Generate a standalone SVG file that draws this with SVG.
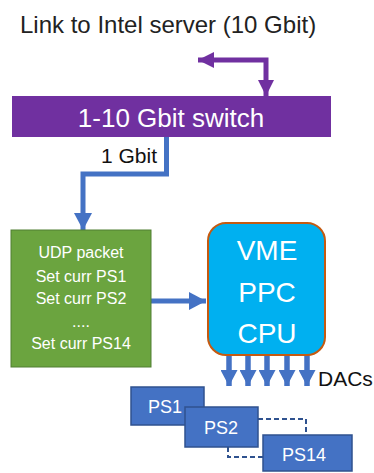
<svg xmlns="http://www.w3.org/2000/svg" width="374" height="473" viewBox="0 0 374 473">
<defs>
<style>
text{font-family:"Liberation Sans","DejaVu Sans",sans-serif;}
.w{fill:#fff;text-anchor:middle;}
.ps{fill:#4472C4;stroke:#2F528F;stroke-width:1.5;}
.dash{fill:none;stroke:#2F528F;stroke-width:2;stroke-dasharray:5,3;}
.blue{fill:none;stroke:#4472C4;stroke-width:5;}
.dac{fill:none;stroke:#4472C4;stroke-width:5.5;}
</style>
<marker id="ab" markerUnits="userSpaceOnUse" markerWidth="18" markerHeight="18" refX="17" refY="9" orient="auto"><path d="M0,0 L17,9 L0,18 Z" fill="#4472C4"/></marker>
<marker id="ad" markerUnits="userSpaceOnUse" markerWidth="17" markerHeight="17" refX="16" refY="8.5" orient="auto"><path d="M0,0 L16,8.5 L0,17 Z" fill="#4472C4"/></marker>
<marker id="ap" markerUnits="userSpaceOnUse" markerWidth="18" markerHeight="18" refX="16" refY="9" orient="auto-start-reverse"><path d="M0,1 L16,9 L0,17 Z" fill="#7030A0"/></marker>
</defs>
<rect width="374" height="473" fill="#fff"/>
<text x="20" y="33" font-size="24" fill="#222">Link to Intel server (10 Gbit)</text>
<g id="connectors">
<path d="M198,60 L266,60 L266,96" fill="none" stroke="#7030A0" stroke-width="5" marker-start="url(#ap)" marker-end="url(#ap)"/>
<path d="M166.5,137 L166.5,174 L83,174 L83,230" class="blue" marker-end="url(#ab)"/>
<path d="M151,301 L206,301" class="blue" marker-end="url(#ab)"/>
<path d="M229,355 L229,386" class="dac" marker-end="url(#ad)"/>
<path d="M248,355 L248,386" class="dac" marker-end="url(#ad)"/>
<path d="M267,355 L267,386" class="dac" marker-end="url(#ad)"/>
<path d="M287,355 L287,386" class="dac" marker-end="url(#ad)"/>
<path d="M307,355 L307,386" class="dac" marker-end="url(#ad)"/>
<path d="M258,419 L306,419 L306,435" class="dash"/>
<path d="M228,447 L228,457 L263,457" class="dash"/>
</g>
<g id="switch">
<rect x="12" y="96" width="319" height="41" fill="#7030A0"/>
<text x="171" y="127" font-size="26" class="w">1-10 Gbit switch</text>
</g>
<text x="157" y="163" font-size="21" text-anchor="end" fill="#111">1 Gbit</text>
<g id="udp">
<rect x="11" y="230" width="140" height="137" fill="#6BA43F" stroke="#507E32" stroke-width="1"/>
<text class="w" font-size="16"><tspan x="81" y="258">UDP packet</tspan><tspan x="81" y="282">Set curr PS1</tspan><tspan x="81" y="304">Set curr PS2</tspan><tspan x="81" y="327">....</tspan><tspan x="81" y="349">Set curr PS14</tspan></text>
</g>
<g id="vme">
<rect x="208" y="223" width="117" height="132" rx="18" fill="#00B0F0" stroke="#C55A11" stroke-width="2"/>
<text class="w" font-size="28"><tspan x="267" y="260">VME</tspan><tspan x="267" y="302">PPC</tspan><tspan x="267" y="343">CPU</tspan></text>
</g>
<text x="318" y="386" font-size="21" fill="#111">DACs</text>
<g id="ps1">
<rect x="131" y="387" width="73" height="38" class="ps"/>
<text x="165" y="413" font-size="18" class="w">PS1</text>
</g>
<g id="ps2">
<rect x="185" y="407" width="73" height="40" class="ps"/>
<text x="221" y="434" font-size="18" class="w">PS2</text>
</g>
<g id="ps14">
<rect x="263" y="435" width="89" height="36" class="ps"/>
<text x="304" y="461" font-size="18" class="w">PS14</text>
</g>
</svg>
